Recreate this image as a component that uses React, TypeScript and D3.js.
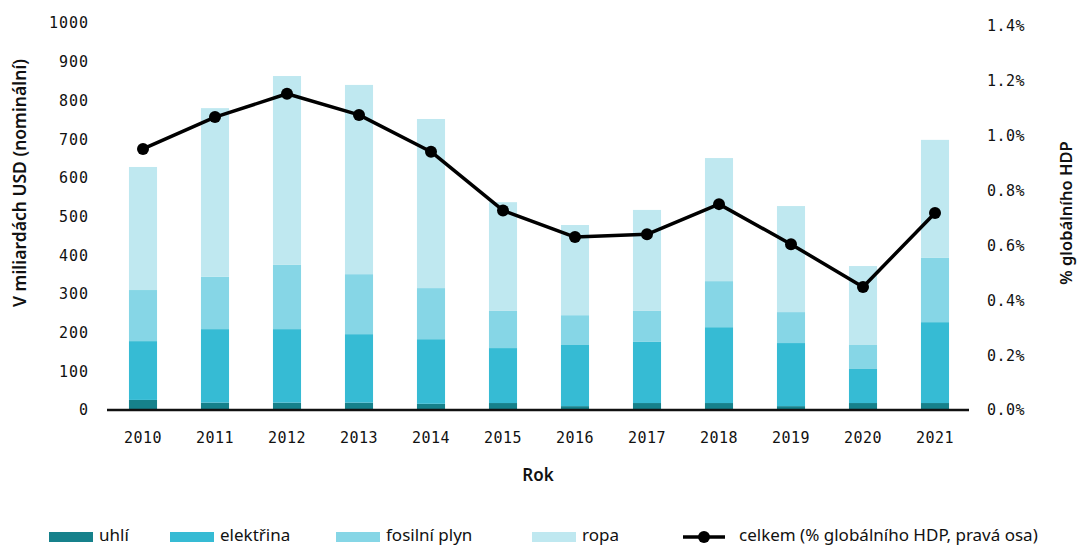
import { useEffect, useRef } from "react";
import * as d3 from "d3";

const years = ["2010", "2011", "2012", "2013", "2014", "2015", "2016", "2017", "2018", "2019", "2020", "2021"];
const uhli = [26, 19, 19, 19, 16, 18, 10, 18, 18, 10, 18, 18];
const elektrina = [152, 190, 190, 177, 167, 142, 158, 158, 196, 163, 88, 209];
const fosilniPlyn = [132, 135, 166, 155, 132, 96, 77, 80, 119, 80, 62, 166];
const ropa = [318, 436, 488, 489, 437, 281, 233, 261, 318, 274, 204, 305];
const celkemPct = [0.951, 1.067, 1.152, 1.075, 0.941, 0.727, 0.63, 0.64, 0.75, 0.604, 0.448, 0.718];

const leftTicks = [0, 100, 200, 300, 400, 500, 600, 700, 800, 900, 1000];
const rightTicks = [0, 0.2, 0.4, 0.6, 0.8, 1.0, 1.2, 1.4];

const seriesNames = ["uhlí", "elektřina", "fosilní plyn", "ropa"];
const seriesColors = ["#16818b", "#36bbd4", "#86d6e6", "#bfe8f0"];
const lineLabel = "celkem (% globálního HDP, pravá osa)";

const W = 1080;
const H = 545;
const tickFont = "'DejaVu Sans Mono', monospace";
const textFont = "'Noto Sans', 'Open Sans', sans-serif";

export default function App() {
  const svgRef = useRef<SVGSVGElement | null>(null);

  useEffect(() => {
    if (!svgRef.current) return;
    const svg = d3.select(svgRef.current);
    svg.selectAll("*").remove();

    const x = d3.scaleBand<string>().domain(years).range([107, 971]).paddingInner(0.61).paddingOuter(0.305);
    const y = d3.scaleLinear().domain([0, 1000]).range([410, 23]);
    const yR = d3.scaleLinear().domain([0, 1.4]).range([410, 25.7]);

    const rows = years.map((yr, i) => ({
      year: yr,
      uhli: uhli[i],
      elektrina: elektrina[i],
      fosilniPlyn: fosilniPlyn[i],
      ropa: ropa[i],
    }));
    const keys = ["uhli", "elektrina", "fosilniPlyn", "ropa"];
    const stacked = d3.stack<(typeof rows)[number]>().keys(keys)(rows);

    const bars = svg.append("g");
    stacked.forEach((layer, li) => {
      bars
        .append("g")
        .attr("fill", seriesColors[li])
        .selectAll("rect")
        .data(layer)
        .join("rect")
        .attr("x", (d) => x(d.data.year)!)
        .attr("width", x.bandwidth())
        .attr("y", (d) => y(d[1]))
        .attr("height", (d) => y(d[0]) - y(d[1]));
    });

    // left ticks
    svg.append("g")
      .selectAll("text")
      .data(leftTicks)
      .join("text")
      .attr("x", 89)
      .attr("y", (d) => y(d))
      .attr("dy", "0.36em")
      .attr("text-anchor", "end")
      .attr("font-family", tickFont)
      .attr("font-size", 15)
      .attr("letter-spacing", 1)
      .attr("fill", "#111")
      .text((d) => String(d));

    // right ticks
    svg.append("g")
      .selectAll("text")
      .data(rightTicks)
      .join("text")
      .attr("x", 987)
      .attr("y", (d) => yR(d))
      .attr("dy", "0.36em")
      .attr("text-anchor", "start")
      .attr("font-family", tickFont)
      .attr("font-size", 15)
      .attr("letter-spacing", 0.5)
      .attr("fill", "#111")
      .text((d) => `${d.toFixed(1)}%`);

    // x ticks
    svg.append("g")
      .selectAll("text")
      .data(years)
      .join("text")
      .attr("x", (d) => x(d)! + x.bandwidth() / 2)
      .attr("y", 438)
      .attr("dy", "0.36em")
      .attr("text-anchor", "middle")
      .attr("font-family", tickFont)
      .attr("font-size", 15)
      .attr("letter-spacing", 0.5)
      .attr("fill", "#111")
      .text((d) => d);

    // axis baseline
    svg.append("line")
      .attr("x1", 107)
      .attr("x2", 969)
      .attr("y1", 410)
      .attr("y2", 410)
      .attr("stroke", "#111")
      .attr("stroke-width", 2.5);

    // line series
    const line = d3
      .line<number>()
      .x((_, i) => x(years[i])! + x.bandwidth() / 2)
      .y((d) => yR(d));
    svg.append("path")
      .datum(celkemPct)
      .attr("d", line)
      .attr("fill", "none")
      .attr("stroke", "#000")
      .attr("stroke-width", 3.5)
      .attr("stroke-linejoin", "round");
    svg.append("g")
      .selectAll("circle")
      .data(celkemPct)
      .join("circle")
      .attr("cx", (_, i) => x(years[i])! + x.bandwidth() / 2)
      .attr("cy", (d) => yR(d))
      .attr("r", 6)
      .attr("fill", "#000");

    // axis titles
    svg.append("text")
      .attr("transform", "translate(20,183) rotate(-90)")
      .attr("text-anchor", "middle")
      .attr("dy", "0.36em")
      .attr("font-family", textFont)
      .attr("font-size", 17.5)
      .attr("font-weight", 600)
      .attr("fill", "#111")
      .text("V miliardách USD (nominální)");
    svg.append("text")
      .attr("transform", "translate(1066,213) rotate(-90)")
      .attr("text-anchor", "middle")
      .attr("dy", "0.36em")
      .attr("font-family", textFont)
      .attr("font-size", 16.5)
      .attr("font-weight", 600)
      .attr("fill", "#111")
      .text("% globálního HDP");
    svg.append("text")
      .attr("x", 538)
      .attr("y", 475)
      .attr("dy", "0.36em")
      .attr("text-anchor", "middle")
      .attr("font-family", textFont)
      .attr("font-size", 17)
      .attr("font-weight", 600)
      .attr("fill", "#111")
      .text("Rok");

    // legend
    const lg = svg.append("g");
    const swatchX = [49, 170, 336, 532];
    seriesNames.forEach((name, i) => {
      lg.append("rect")
        .attr("x", swatchX[i])
        .attr("y", 532)
        .attr("width", 44)
        .attr("height", 10)
        .attr("fill", seriesColors[i]);
      lg.append("text")
        .attr("x", swatchX[i] + 50)
        .attr("y", 535)
        .attr("dy", "0.34em")
        .attr("font-family", textFont)
        .attr("font-size", 17)
        .attr("fill", "#111")
        .text(name);
    });
    lg.append("line")
      .attr("x1", 683)
      .attr("x2", 725)
      .attr("y1", 537)
      .attr("y2", 537)
      .attr("stroke", "#000")
      .attr("stroke-width", 3.5);
    lg.append("circle").attr("cx", 704).attr("cy", 537).attr("r", 6).attr("fill", "#000");
    lg.append("text")
      .attr("x", 739)
      .attr("y", 535)
      .attr("dy", "0.34em")
      .attr("font-family", textFont)
      .attr("font-size", 17)
      .attr("fill", "#111")
      .text(lineLabel);
  }, []);

  return (
    <div style={{ position: "fixed", left: 0, top: 0 }}>
      <svg ref={svgRef} width={W} height={H} style={{ display: "block", background: "#fff" }} />
    </div>
  );
}
